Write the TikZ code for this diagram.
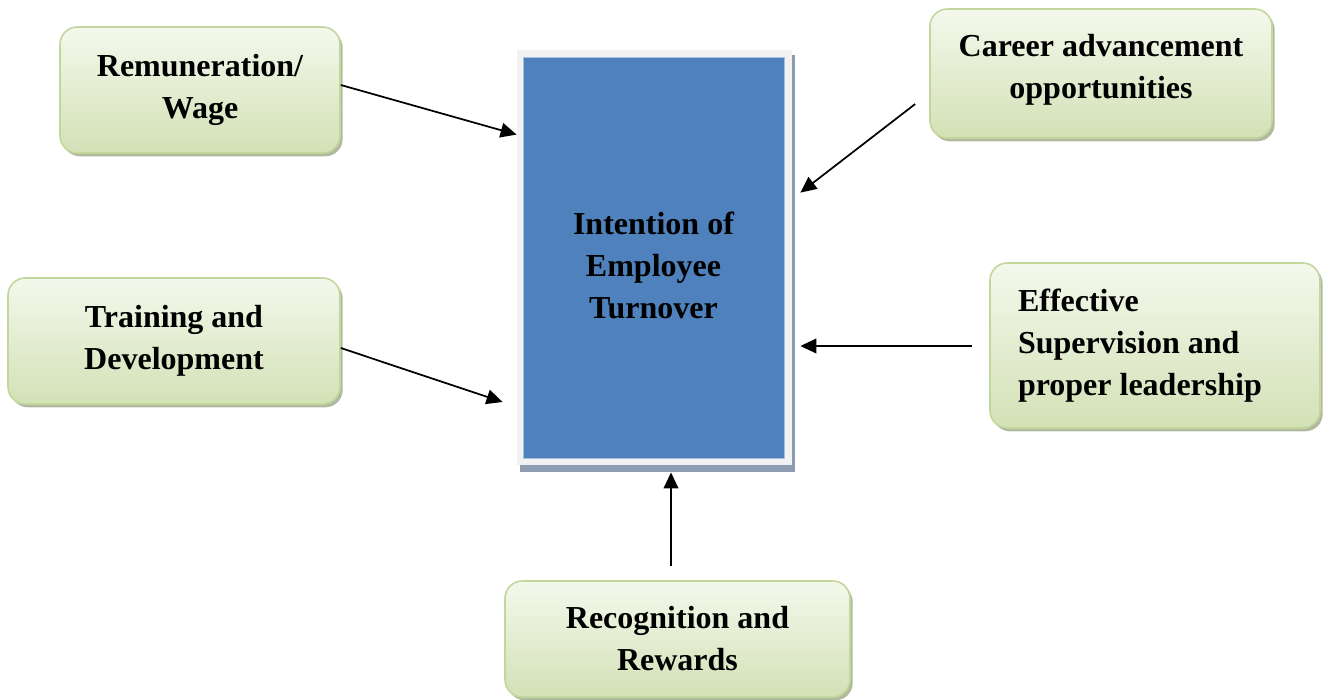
\documentclass[tikz,border=0pt]{standalone}
\usepackage{fontspec}
\setmainfont{Liberation Serif}
\usetikzlibrary{arrows.meta,shadows,calc,backgrounds}
\definecolor{gborder}{HTML}{C3D69B}
\definecolor{gtop}{HTML}{F4F8EC}
\definecolor{gbot}{HTML}{D3E1B6}
\definecolor{gshadow}{HTML}{9EA98A}
\definecolor{blueA}{HTML}{4F81BD}
\definecolor{blueB}{HTML}{A7BFDE}
\definecolor{frameC}{HTML}{F2F2F2}
\definecolor{frameS}{HTML}{8E9CB1}
\begin{document}
\begin{tikzpicture}[x=0.75pt,y=-0.75pt,
  boldtext/.style={font=\fontsize{24}{31.5}\selectfont\bfseries},
  factor/.style={rounded corners=13pt, draw=gborder, line width=1.2pt,
    top color=gtop, bottom color=gbot, align=center, boldtext, inner sep=0pt,
    drop shadow={shadow xshift=2pt,shadow yshift=-2.5pt,fill=gshadow,opacity=0.8}},
  link/.style={line width=1.3pt, -{Triangle[length=12pt,width=11pt]}}]
\useasboundingbox (0,0) rectangle (1329,700);

\node (rem) [factor, minimum width=210pt, minimum height=94.5pt] at (200,90) {Remuneration/\\Wage};
\node (car) [factor, minimum width=256.5pt, minimum height=96.75pt,
  label={[boldtext, align=center, yshift=3pt]center:Career advancement\\opportunities}] at (1101,73.5) {};
\node (tra) [factor, minimum width=249pt, minimum height=94.5pt] at (174,341) {Training and\\Development};
\node (eff) [factor, align=flush left, inner xsep=21pt, text width=205.5pt, minimum height=123.75pt] at (1155,345.5) {Effective\\Supervision and\\proper leadership};
\node (rec) [factor, minimum width=258.75pt, minimum height=87pt] at (677.5,639) {Recognition and\\Rewards};

\node (cen) [fill=blueA, draw=blueB, line width=0.6pt, minimum width=195.75pt, minimum height=300.75pt,
  label={[boldtext, align=center, yshift=-6pt]center:Intention of\\Employee\\Turnover}] at (653.5,257.5) {};
\begin{scope}[on background layer]
  \fill[frameS] ($(cen.north west)+(-3,-2)$) rectangle ($(cen.south east)+(11,14)$);
  \fill[frameC] ($(cen.north west)+(-6,-7)$) rectangle ($(cen.south east)+(8,7)$);
\end{scope}

\draw[link] ($(rem.east)+(0,-5)$) -- ($(cen.north west)+(-6,78)$);
\draw[link] ($(car.west)+(-14,30.5)$) -- ($(cen.north east)+(16,136)$);
\draw[link] ($(tra.east)+(0,7)$) -- ($(cen.west)+(-20,144.5)$);
\draw[link] ($(eff.west)+(-17,0.5)$) -- ($(cen.east)+(16,88.5)$);
\draw[link] ($(rec.north)+(-6.5,-14)$) -- ($(cen.south)+(17.5,14)$);
\end{tikzpicture}
\end{document}
